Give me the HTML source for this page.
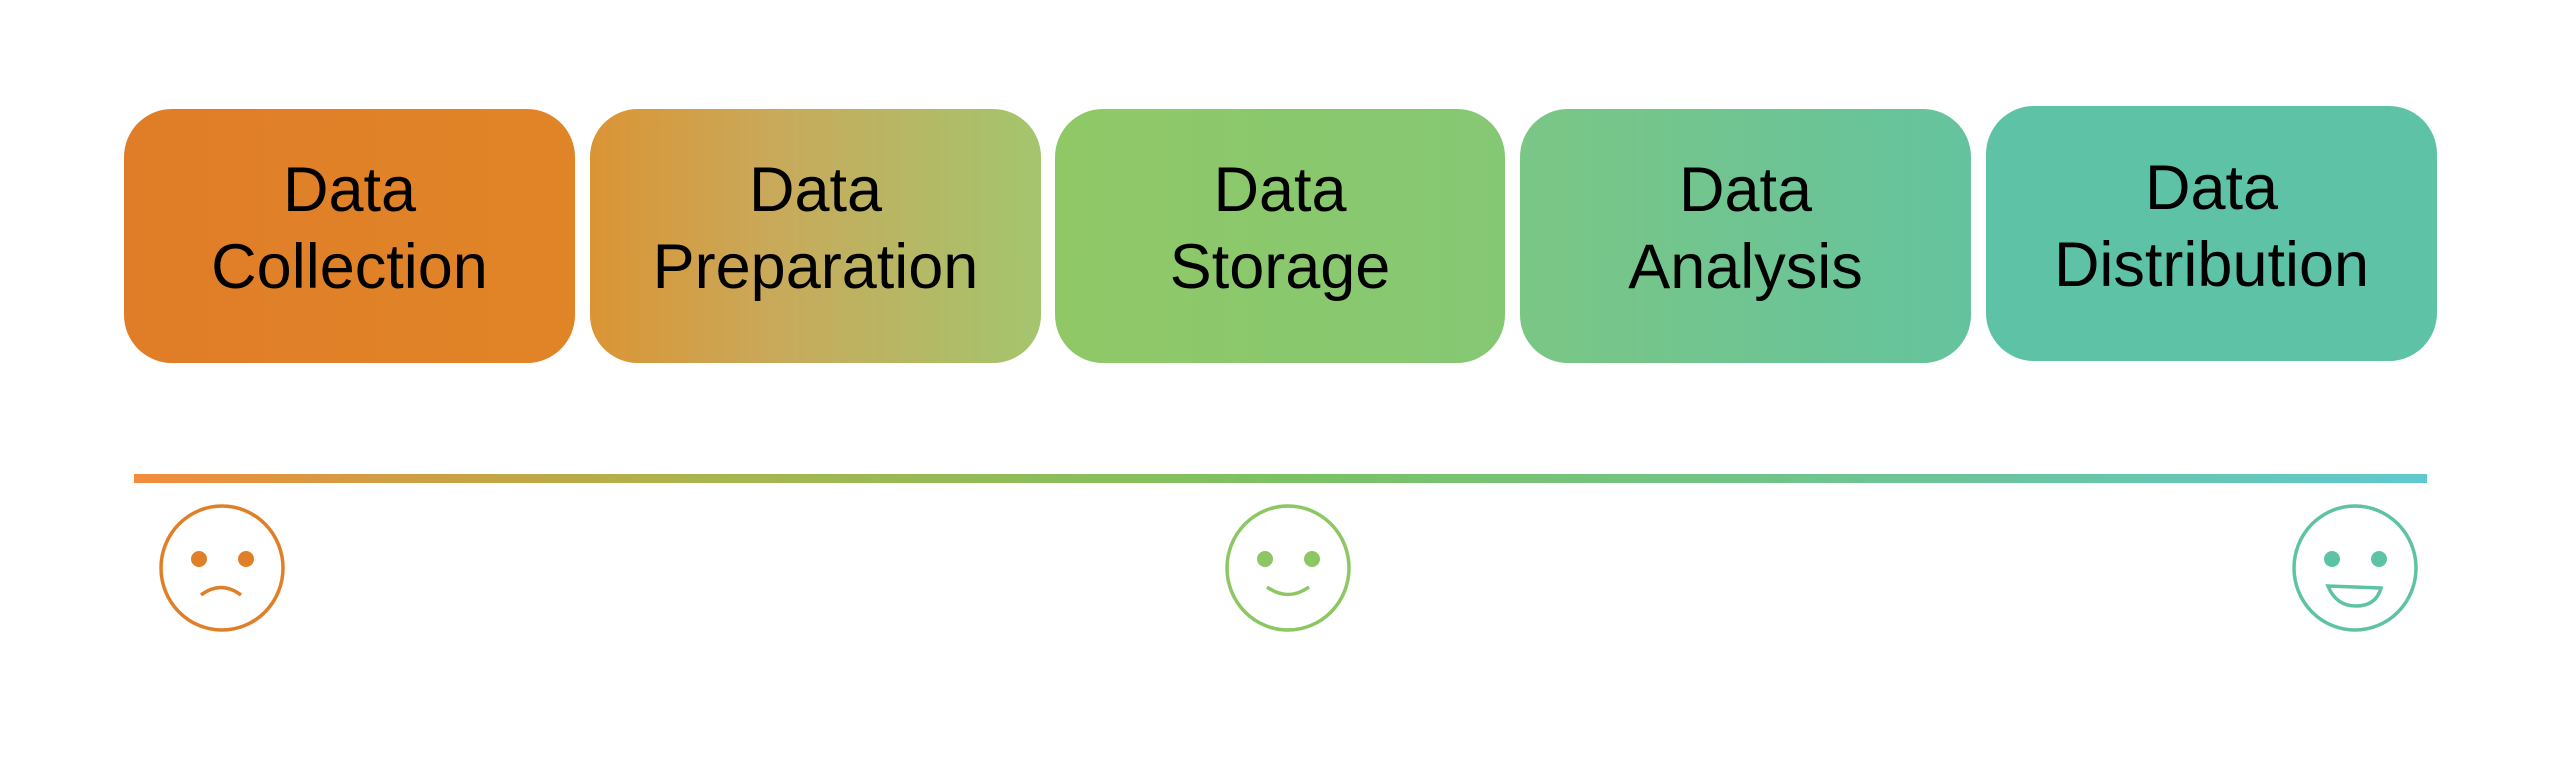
<!DOCTYPE html>
<html><head><meta charset="utf-8"><style>
html,body{margin:0;padding:0;background:#fff;width:2560px;height:765px;overflow:hidden}
.b{position:absolute;box-sizing:border-box;padding-bottom:14px;border-radius:48px;display:flex;align-items:center;justify-content:center;text-align:center;font-family:"Liberation Sans",sans-serif;font-size:63px;line-height:77px;color:#000;letter-spacing:0px}
</style></head><body>
<div class="b" style="left:124px;top:109px;width:451px;height:254px;background:linear-gradient(90deg,#e07d28,#e08527)">Data<br>Collection</div>
<div class="b" style="left:590px;top:109px;width:451px;height:254px;background:linear-gradient(90deg,#db9434,#c9a95a 40%,#a4c56e)">Data<br>Preparation</div>
<div class="b" style="left:1055px;top:109px;width:450px;height:254px;background:linear-gradient(90deg,#90c866,#85c874)">Data<br>Storage</div>
<div class="b" style="left:1520px;top:109px;width:451px;height:254px;background:linear-gradient(90deg,#7bc685,#64c39e)">Data<br>Analysis</div>
<div class="b" style="left:1986px;top:106px;width:451px;height:255px;background:#5ec3a6">Data<br>Distribution</div>
<div style="position:absolute;left:134px;top:474px;width:2293px;height:9px;background:linear-gradient(90deg,#f28b3c,#a8b54e 25%,#7cc263 50%,#6cc49a 80%,#60c9cf)"></div>
<svg width="2560" height="765" style="position:absolute;left:0;top:0">
<g fill="none" stroke-width="3.5">
<ellipse cx="222" cy="568" rx="61" ry="62" stroke="#e07f27"/>
<circle cx="199" cy="559" r="8" fill="#e07f27" stroke="none"/>
<circle cx="246" cy="559" r="8" fill="#e07f27" stroke="none"/>
<path d="M201 595 Q221 580 241 595" stroke="#e07f27"/>
<ellipse cx="1288" cy="568" rx="61" ry="62" stroke="#8dc764"/>
<circle cx="1265" cy="559" r="8" fill="#8dc764" stroke="none"/>
<circle cx="1312" cy="559" r="8" fill="#8dc764" stroke="none"/>
<path d="M1267 587 Q1288 602 1309 587" stroke="#8dc764"/>
<ellipse cx="2355" cy="568" rx="61" ry="62" stroke="#5ec3a5"/>
<circle cx="2332" cy="559" r="8" fill="#5ec3a5" stroke="none"/>
<circle cx="2379" cy="559" r="8" fill="#5ec3a5" stroke="none"/>
<path d="M2328 586 L2381 588 Q2376 606 2356 606 Q2336 606 2328 586 Z" stroke="#5ec3a5"/>
</g></svg>
</body></html>
